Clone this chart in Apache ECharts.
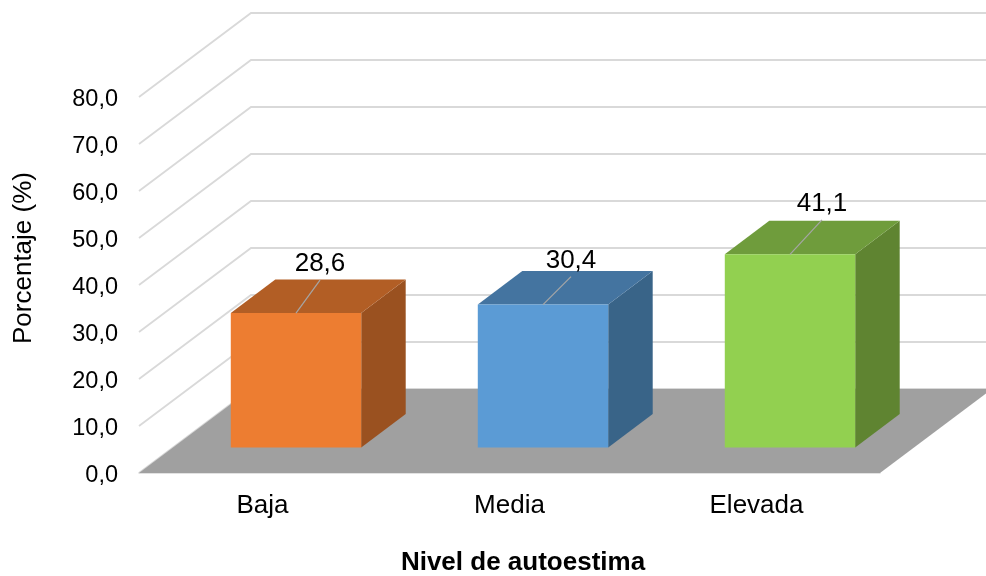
<!DOCTYPE html>
<html>
<head>
<meta charset="utf-8">
<style>html,body{margin:0;padding:0;background:#fff}#c{width:986px;height:576px}</style>
<script src="https://cdn.jsdelivr.net/npm/echarts@6/dist/echarts.min.js"></script>
</head>
<body>
<div id="c"></div>
<script>
const categories = ['Baja', 'Media', 'Elevada'];
const values = [28.6, 30.4, 41.1];
const yTicks = [0, 10, 20, 30, 40, 50, 60, 70, 80];

const faceColors = [
  { front: '#ED7D31', top: '#B25E25', side: '#9A5120' },
  { front: '#5B9BD5', top: '#4474A0', side: '#396488' },
  { front: '#92D050', top: '#6F9C3C', side: '#5F8431' }
];
const wall = { dx: 112, dy: 84 };
const barShift = { dx: 33.5, dy: 25.5 };
const barDepth = { dx: 44.5, dy: 33.5 };
const barRatio = 0.528;
const leaders = [{ dx: 24, dy: 33 }, { dx: 28, dy: 28 }, { dx: 32, dy: 34.5 }];
const font = '"Liberation Sans", Arial, sans-serif';
const fmt = v => v.toFixed(1).replace('.', ',');

function renderGrid(params, api) {
  const cs = params.coordSys;
  const y = api.coord([0, api.value(0)])[1];
  return {
    type: 'polyline',
    shape: { points: [[cs.x, y], [cs.x + wall.dx, y - wall.dy], [cs.x + cs.width + wall.dx, y - wall.dy]] },
    style: { stroke: '#D9D9D9', lineWidth: 1.8, fill: null },
    silent: true
  };
}

function renderFloor(params, api) {
  const cs = params.coordSys;
  const y = api.coord([0, 0])[1];
  return {
    type: 'polygon',
    shape: { points: [[cs.x, y], [cs.x + wall.dx, y - wall.dy], [cs.x + cs.width + wall.dx, y - wall.dy], [cs.x + cs.width, y]] },
    style: { fill: '#A0A0A0' },
    silent: true
  };
}

function renderBar(params, api) {
  const i = api.value(0);
  const v = api.value(1);
  const base = api.coord([i, 0]);
  const top = api.coord([i, v]);
  const w = api.size([1, 0])[0] * barRatio;
  const l = base[0] - w / 2 + barShift.dx;
  const r = l + w;
  const b = base[1] - barShift.dy;
  const t = top[1] - barShift.dy;
  const c = faceColors[i];
  const d = barDepth;
  const mid = (l + r) / 2;
  const ld = leaders[i];
  return {
    type: 'group',
    children: [
      { type: 'polygon', shape: { points: [[r, t], [r + d.dx, t - d.dy], [r + d.dx, b - d.dy], [r, b]] }, style: { fill: c.side } },
      { type: 'polygon', shape: { points: [[l, t], [l + d.dx, t - d.dy], [r + d.dx, t - d.dy], [r, t]] }, style: { fill: c.top } },
      { type: 'rect', shape: { x: l, y: t, width: w, height: b - t }, style: { fill: c.front } },
      { type: 'line', shape: { x1: mid, y1: t, x2: mid + ld.dx, y2: t - ld.dy }, style: { stroke: '#A6A6A6', lineWidth: 1.2 } },
      { type: 'text', style: { text: fmt(v), x: mid + ld.dx, y: t - ld.dy - 3, fill: '#000', font: '26px ' + font, align: 'center', verticalAlign: 'bottom' } }
    ]
  };
}

const chart = echarts.init(document.getElementById('c'), null, { renderer: 'canvas' });
chart.setOption({
  animation: false,
  backgroundColor: '#fff',
  grid: { left: 139, right: 106, top: 97, bottom: 103, outerBoundsMode: 'none' },
  xAxis: {
    type: 'category',
    data: categories,
    axisLine: { show: true, lineStyle: { color: '#D9D9D9', width: 1.5 } },
    axisTick: { show: false },
    axisLabel: { color: '#000', fontSize: 26, fontFamily: font, margin: 20 },
    name: 'Nivel de autoestima',
    nameLocation: 'middle',
    nameGap: 77,
    nameTextStyle: { color: '#000', fontSize: 26, fontWeight: 'bold', fontFamily: font, padding: [0, 0, 0, 27] }
  },
  yAxis: {
    type: 'value',
    min: 0,
    max: 80,
    interval: 10,
    axisLine: { show: false },
    axisTick: { show: false },
    splitLine: { show: false },
    axisLabel: {
      color: '#000', fontSize: 23.5, fontFamily: font, margin: 21,
      formatter: v => '{t|' + fmt(v) + '}',
      rich: { t: { color: '#000', fontSize: 23.5, fontFamily: font, verticalAlign: 'top', padding: [6, 0, 0, 0] } }
    },
    name: 'Porcentaje (%)',
    nameLocation: 'middle',
    nameGap: 102,
    nameMoveOverlap: false,
    nameTextStyle: { color: '#000', fontSize: 26, fontFamily: font, padding: [0, 0, 0, 54] }
  },
  series: [
    { type: 'custom', coordinateSystem: 'cartesian2d', clip: false, silent: true, z: 1, data: yTicks.map(t => [t]), encode: { y: 0 }, renderItem: renderGrid },
    { type: 'custom', coordinateSystem: 'cartesian2d', clip: false, silent: true, z: 2, data: [[0]], renderItem: renderFloor },
    { type: 'custom', coordinateSystem: 'cartesian2d', clip: false, silent: true, z: 3, data: values.map((v, i) => [i, v]), encode: { x: 0, y: 1 }, renderItem: renderBar }
  ]
});
</script>
</body>
</html>
